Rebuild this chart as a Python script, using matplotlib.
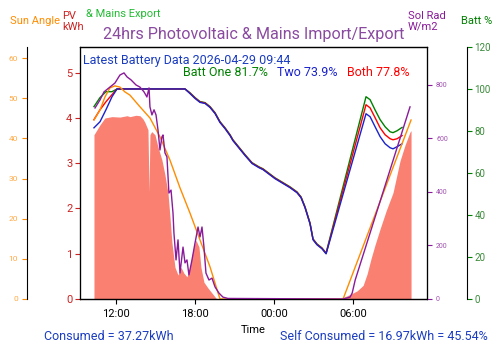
import matplotlib
matplotlib.use("Agg")
import matplotlib.pyplot as plt

plt.rcParams['font.family'] = ['Roboto', 'DejaVu Sans']

# time axis in hours from midnight of the first day (24 = next midnight)
tick_hours = [12, 18, 24, 30]
tick_labels = ['12:00', '18:00', '00:00', '06:00']

# PV generation (kWh)
pv_hours = [10.33, 10.79, 11.16, 11.70, 12.30, 12.84, 13.06, 13.52, 13.82, 14.05, 14.20,
            14.43, 14.51, 14.58, 14.71, 14.96, 15.19, 15.49, 15.72, 15.95, 16.10, 16.25,
            16.48, 16.71, 16.94, 17.16, 17.39, 17.62, 17.85, 18.07, 18.30, 18.45, 18.68,
            18.99, 19.29, 19.59, 19.75, 29.01, 29.77, 30.31, 30.76, 31.06, 31.37, 31.67,
            32.05, 32.51, 33.03, 33.56, 33.94, 34.32, 34.40]
pv_kwh = [3.63, 3.85, 4.00, 4.03, 4.02, 4.05, 4.03, 4.06, 4.05, 3.98, 3.90,
          3.74, 2.37, 3.63, 3.70, 3.63, 3.36, 3.07, 2.74, 2.34, 1.81, 1.24,
          0.70, 0.53, 0.70, 0.57, 0.49, 0.70, 1.08, 1.30, 1.15, 0.70, 0.37,
          0.24, 0.13, 0.02, 0.0, 0.0, 0.10, 0.18, 0.30, 0.55, 0.90, 1.20,
          1.55, 1.95, 2.35, 3.05, 3.40, 3.69, 3.72]

# sun elevation (deg)
sun_hours = [10.33, 10.79, 11.16, 11.54, 11.92, 12.30, 12.68, 13.06, 13.82, 14.58,
             15.34, 16.10, 16.86, 17.62, 18.38, 19.14, 19.75, 19.90, 29.24, 34.40]
sun_deg = [44.6, 47.1, 50.3, 52.6, 53.1, 52.8, 51.6, 50.8, 47.9, 45.1,
           40.4, 34.6, 27.7, 21.4, 14.7, 8.0, 1.5, 0.0, 0.0, 44.6]

# solar radiation (W/m2)
rad_hours = [10.41, 10.79, 11.09, 11.54, 11.92, 12.30, 12.61, 12.84, 13.14, 13.52,
             13.82, 14.13, 14.35, 14.51, 14.58, 14.73, 14.89, 15.04, 15.19, 15.34,
             15.49, 15.57, 15.72, 15.87, 16.02, 16.18, 16.33, 16.40, 16.56, 16.71,
             16.86, 17.09, 17.24, 17.39, 17.54, 17.77, 18.00, 18.23, 18.38, 18.53,
             18.68, 18.83, 19.06, 19.29, 19.52, 19.82, 20.12, 20.50, 29.24, 29.77,
             29.93, 30.16, 34.32]
rad_wm2 = [714, 744, 774, 792, 807, 837, 845, 830, 819, 800,
           792, 774, 755, 789, 718, 688, 707, 688, 632, 557,
           606, 613, 546, 531, 396, 407, 321, 247, 146, 221,
           97, 194, 135, 146, 90, 146, 209, 269, 232, 269,
           194, 97, 71, 78, 45, 22, 7, 2, 0, 7,
           22, 71, 718]

# battery state of charge (%)
bat_hours = [10.33, 10.79, 11.24, 11.70, 12.08, 17.24, 17.62, 18.00, 18.38, 18.76,
             19.14, 19.52, 19.90, 20.28, 20.66, 20.88, 21.80, 22.33, 22.86, 23.16,
             24.07, 25.21, 25.74, 26.05, 26.35, 26.73, 26.96, 27.26, 27.64, 27.95,
             30.98, 31.29, 31.67, 32.05, 32.43, 32.81, 33.03, 33.34, 33.72]
batt_one = [91.6, 95.9, 98.7, 98.7, 100.0, 100.0, 98.2, 95.9, 94.0, 93.5,
            91.6, 88.7, 84.4, 81.5, 78.2, 75.8, 68.7, 64.9, 62.9, 62.0,
            57.7, 53.4, 51.0, 48.6, 43.9, 36.2, 28.6, 26.2, 24.3, 21.9,
            96.3, 94.9, 90.0, 85.4, 82.0, 79.6, 79.2, 80.1, 81.7]
batt_two = [81.5, 84.4, 90.1, 96.3, 100.0, 100.0, 97.8, 95.5, 93.6, 93.1,
            91.2, 88.3, 84.0, 81.1, 77.8, 75.4, 68.3, 64.5, 62.5, 61.6,
            57.3, 53.0, 50.6, 48.2, 43.5, 35.8, 28.2, 25.8, 23.9, 21.5,
            88.2, 86.8, 82.0, 77.3, 73.9, 72.0, 71.5, 72.5, 73.9]
batt_both = [85.4, 90.1, 93.9, 97.3, 100.0, 100.0, 98.0, 95.7, 93.8, 93.3,
             91.4, 88.5, 84.2, 81.3, 78.0, 75.6, 68.5, 64.7, 62.7, 61.8,
             57.5, 53.2, 50.8, 48.4, 43.7, 36.0, 28.4, 26.0, 24.1, 21.7,
             92.5, 91.0, 86.3, 81.5, 78.2, 76.3, 75.8, 76.3, 77.8]

fig = plt.figure(figsize=(5, 3.53), dpi=100)
ax = fig.add_axes([0.16, 0.153, 0.694, 0.714])

# PV fill on the main (red) axis
ax.fill_between(pv_hours, pv_kwh, color='salmon', lw=0)
ax.set_ylim(0, 5.57)
ax.set_xlim(9.27, 35.61)
ax.set_xticks(tick_hours)
ax.set_xticklabels(tick_labels)
ax.tick_params(axis='x', labelsize=8, pad=4)
ax.tick_params(axis='y', colors='#cc2222', labelsize=8, pad=2)
ax.set_xlabel('Time', fontsize=8, labelpad=4)

# battery axis (far right)
ax_bat = ax.twinx()
ax_bat.spines['right'].set_position(('axes', 1.115))
ax_bat.plot(bat_hours, batt_one, color='green', lw=1)
ax_bat.plot(bat_hours, batt_both, color='red', lw=1)
ax_bat.plot(bat_hours, batt_two, color='#1a22cc', lw=1)
ax_bat.set_ylim(0, 120)
ax_bat.set_yticks(range(0, 121, 20))
ax_bat.tick_params(axis='y', colors='green', labelsize=7, pad=2)
ax_bat.tick_params(axis='y', labelcolor='#3a8a3a')

# sun angle axis (far left)
ax_sun = ax.twinx()
ax_sun.spines['left'].set_position(('axes', -0.153))
ax_sun.spines['left'].set_visible(True)
ax_sun.yaxis.set_ticks_position('left')
ax_sun.plot(sun_hours, sun_deg, color='darkorange', lw=1)
ax_sun.set_ylim(0, 62.8)
ax_sun.set_yticks(range(0, 61, 10))
ax_sun.tick_params(axis='y', colors='darkorange', labelsize=6, pad=3)
ax_sun.tick_params(axis='y', labelcolor='#ffaa44')

# solar radiation axis (right)
ax_rad = ax.twinx()
ax_rad.plot(rad_hours, rad_wm2, color='#8a1a9a', lw=1)
ax_rad.set_ylim(0, 942)
ax_rad.set_yticks(range(0, 801, 200))
ax_rad.tick_params(axis='y', colors='#8a1a9a', labelsize=5, pad=3)
ax_rad.tick_params(axis='y', labelcolor='#a050b0')

ax.set_title('24hrs Photovoltaic & Mains Import/Export', color='#8a4aa0',
             fontsize=11.6, pad=6)

# battery info
ax.text(0.009, 0.948, 'Latest Battery Data 2026-04-29 09:44', transform=ax.transAxes,
        color='#1a3cc0', fontsize=9, va='center')
ax.text(0.297, 0.90, 'Batt One 81.7%', transform=ax.transAxes, color='green',
        fontsize=9, va='center')
ax.text(0.568, 0.90, 'Two 73.9%', transform=ax.transAxes, color='#1a22cc',
        fontsize=9, va='center')
ax.text(0.769, 0.90, 'Both 77.8%', transform=ax.transAxes, color='red',
        fontsize=9, va='center')

# axis labels across the top
fig.text(0.02, 0.94, 'Sun Angle', color='darkorange', fontsize=8, va='center')
fig.text(0.124, 0.94, 'PV\nkWh', color='#cc2222', fontsize=8, va='center',
         linespacing=1.1)
fig.text(0.172, 0.96, '& Mains Export', color='#22bb33', fontsize=8, va='center')
fig.text(0.816, 0.94, 'Sol Rad\nW/m2', color='#8a1a9a', fontsize=8, va='center',
         linespacing=1.1)
fig.text(0.922, 0.94, 'Batt %', color='green', fontsize=8, va='center')

# totals
fig.text(0.088, 1 - 337 / 353, 'Consumed = 37.27kWh', color='#1a3cc0',
         fontsize=9, va='center')
fig.text(0.976, 1 - 337 / 353, 'Self Consumed = 16.97kWh = 45.54%',
         color='#1a3cc0', fontsize=9, va='center', ha='right')

fig.savefig('out.png', dpi=100)
